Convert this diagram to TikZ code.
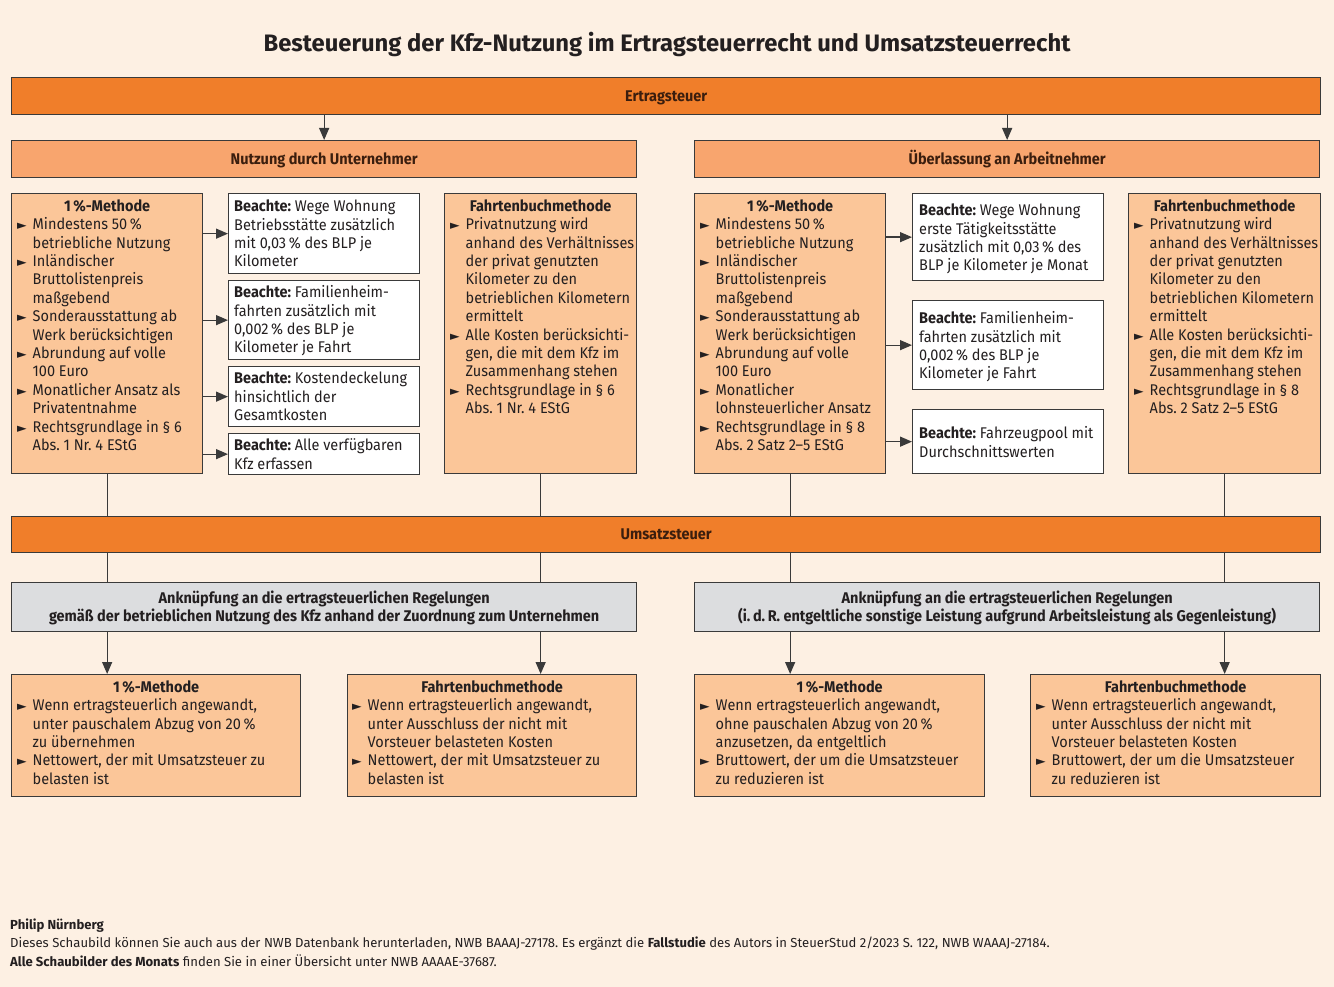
\documentclass[tikz,border=0pt]{standalone}
\usepackage{fontspec}
\setmainfont{Fira Sans}[FakeStretch=0.935]
\newfontfamily\titlefont{Fira Sans}
\newfontfamily\dejavu{DejaVu Sans}
\usetikzlibrary{arrows.meta,calc}
\definecolor{bg}{HTML}{FDF0E3}
\definecolor{barc}{HTML}{F07E2A}
\definecolor{midc}{HTML}{F8A56E}
\definecolor{lightc}{HTML}{FBC699}
\definecolor{greyc}{HTML}{DCDDDF}
\definecolor{edge}{HTML}{3A3A3A}
\definecolor{brownt}{HTML}{3B1E0E}
\definecolor{txtc}{HTML}{231F20}
\newcommand\bx{\makebox[15.5pt][l]{\raisebox{0pt}{\dejavu\fontsize{12.5}{12.5}\selectfont ►}}}
\newcommand\ix{\hspace*{15.5pt}}
\newcommand\fs{\fontsize{15.5}{18.4}\selectfont}
\newcommand\ftf{\titlefont\fontsize{13.1}{15}\selectfont}
\newcommand\st{\rule{0pt}{13pt}}
\frenchspacing
\begin{document}
\begin{tikzpicture}[x=1pt,y=-1pt,
  box/.style={draw=edge, line width=1.3pt, anchor=north west, inner sep=0pt},
  bar/.style={box, fill=barc, minimum width=1309pt, minimum height=37pt},
  sub/.style={box, fill=midc, minimum width=625pt, minimum height=37pt},
  lbox/.style={box, fill=lightc},
  wbox/.style={box, fill=white, minimum width=191pt},
  gbox/.style={box, fill=greyc, minimum width=625pt, minimum height=49pt},
  bartxt/.style={inner sep=0pt, font=\fs\bfseries, text=brownt, text height=12.5pt, text depth=2pt},
  txt/.style={anchor=north west, inner sep=0pt, align=left, font=\fs, text=txtc},
  hd/.style={anchor=base, inner sep=0pt, font=\fs\bfseries, text=txtc},
  ft/.style={anchor=base west, inner sep=0pt, font=\ftf, text=txtc},
  arr/.style={draw=edge, line width=1.3pt, -{Triangle[length=12pt,width=10pt]}},
  ln/.style={draw=edge, line width=1.3pt}]
\useasboundingbox (0,0) rectangle (1334,987);
\fill[bg] (0,0) rectangle (1334,987);

\node[anchor=base, inner sep=0pt, font=\titlefont\fontsize{23.8}{26}\selectfont\bfseries, text=txtc] (title) at (667,52) {Besteuerung der Kfz-Nutzung im Ertragsteuerrecht und Umsatzsteuerrecht};

% Ertragsteuer
\node[bar] (ert) at (11,77) {};
\node[bartxt] (ertt) at (ert.center) {Ertragsteuer};
\node[sub] (nu) at (11,140) {};
\node[bartxt] (nut) at (nu.center) {Nutzung durch Unternehmer};
\node[sub] (ua) at (694,140) {};
\node[bartxt] (uat) at (ua.center) {Überlassung an Arbeitnehmer};
\draw[arr] (ert.south -| nu.north) -- (nu.north);
\draw[arr] (ert.south -| ua.north) -- (ua.north);

% left 1%-Methode
\node[lbox, minimum width=191pt, minimum height=280pt] (l1) at (11,193) {};
\node[hd] (l1h) at (l1.north |- 0,211.5) {1\,\%-Methode};
\node[txt] (l1t) at (17,216.5) {\st\bx Mindestens 50\,\%\\\ix betriebliche Nutzung\\\bx Inländischer\\\ix Bruttolistenpreis\\\ix maßgebend\\\bx Sonderausstattung ab\\\ix Werk berücksichtigen\\\bx Abrundung auf volle\\\ix 100 Euro\\\bx Monatlicher Ansatz als\\\ix Privatentnahme\\\bx Rechtsgrundlage in § 6\\\ix Abs. 1 Nr. 4 EStG};

% left Beachte
\node[wbox, minimum height=80pt] (b1) at (228,193) {};
\node[txt] (b1t) at (234,198.5) {\st\textbf{Beachte:} Wege Wohnung\\Betriebsstätte zusätzlich\\mit 0,03\,\% des BLP je\\Kilometer};
\node[wbox, minimum height=79pt] (b2) at (228,280) {};
\node[txt] (b2t) at (234,284.5) {\st\textbf{Beachte:} Familienheim-\\fahrten zusätzlich mit\\0,002\,\% des BLP je\\Kilometer je Fahrt};
\node[wbox, minimum height=60pt] (b3) at (228,366) {};
\node[txt] (b3t) at (234,370.5) {\st\textbf{Beachte:} Kostendeckelung\\hinsichtlich der\\Gesamtkosten};
\node[wbox, minimum height=41pt] (b4) at (228,433) {};
\node[txt] (b4t) at (234,437.5) {\st\textbf{Beachte:} Alle verfügbaren\\Kfz erfassen};
\foreach \b in {b1,b2,b3,b4} \draw[arr] (\b.west -| l1.east) -- (\b.west);

% left Fahrtenbuch
\node[lbox, minimum width=192pt, minimum height=280pt] (f1) at (444,193) {};
\node[hd] (f1h) at (f1.north |- 0,211.5) {Fahrtenbuchmethode};
\node[txt] (f1t) at (450,216.5) {\st\bx Privatnutzung wird\\\ix anhand des Verhältnisses\\\ix der privat genutzten\\\ix Kilometer zu den\\\ix betrieblichen Kilometern\\\ix ermittelt\\\bx Alle Kosten berücksichti-\\\ix gen, die mit dem Kfz im\\\ix Zusammenhang stehen\\\bx Rechtsgrundlage in § 6\\\ix Abs. 1 Nr. 4 EStG};

% right 1%-Methode
\node[lbox, minimum width=191pt, minimum height=280pt] (r1) at (694,193) {};
\node[hd] (r1h) at (r1.north |- 0,211.5) {1\,\%-Methode};
\node[txt] (r1t) at (700,216.5) {\st\bx Mindestens 50\,\%\\\ix betriebliche Nutzung\\\bx Inländischer\\\ix Bruttolistenpreis\\\ix maßgebend\\\bx Sonderausstattung ab\\\ix Werk berücksichtigen\\\bx Abrundung auf volle\\\ix 100 Euro\\\bx Monatlicher\\\ix lohnsteuerlicher Ansatz\\\bx Rechtsgrundlage in § 8\\\ix Abs. 2 Satz 2–5 EStG};

% right Beachte
\node[wbox, minimum height=87pt] (rb1) at (912,193) {};
\node[txt] (rb1t) at (919,202.5) {\st\textbf{Beachte:} Wege Wohnung\\erste Tätigkeitsstätte\\zusätzlich mit 0,03\,\% des\\BLP je Kilometer je Monat};
\node[wbox, minimum height=89pt] (rb2) at (912,300) {};
\node[txt] (rb2t) at (919,310.5) {\st\textbf{Beachte:} Familienheim-\\fahrten zusätzlich mit\\0,002\,\% des BLP je\\Kilometer je Fahrt};
\node[wbox, minimum height=64pt] (rb3) at (912,409) {};
\node[txt] (rb3t) at (919,425.5) {\st\textbf{Beachte:} Fahrzeugpool mit\\Durchschnittswerten};
\foreach \b in {rb1,rb2,rb3} \draw[arr] (\b.west -| r1.east) -- (\b.west);

% right Fahrtenbuch
\node[lbox, minimum width=192pt, minimum height=280pt] (f2) at (1128,193) {};
\node[hd] (f2h) at (f2.north |- 0,211.5) {Fahrtenbuchmethode};
\node[txt] (f2t) at (1134,216.5) {\st\bx Privatnutzung wird\\\ix anhand des Verhältnisses\\\ix der privat genutzten\\\ix Kilometer zu den\\\ix betrieblichen Kilometern\\\ix ermittelt\\\bx Alle Kosten berücksichti-\\\ix gen, die mit dem Kfz im\\\ix Zusammenhang stehen\\\bx Rechtsgrundlage in § 8\\\ix Abs. 2 Satz 2–5 EStG};

% Umsatzsteuer
\node[bar, minimum height=36pt] (ust) at (11,516) {};
\node[bartxt] (ustt) at (ust.center) {Umsatzsteuer};
\foreach \b in {l1,f1,r1,f2} \draw[ln] (\b.south) -- (\b.south |- ust.north);

\node[gbox] (g1) at (11,582) {};
\node[hd] (g1t) at (g1.north |- 0,603.5) {Anknüpfung an die ertragsteuerlichen Regelungen};
\node[hd] (g1u) at (g1.north |- 0,621.5) {gemäß der betrieblichen Nutzung des Kfz anhand der Zuordnung zum Unternehmen};
\node[gbox] (g2) at (694,582) {};
\node[hd] (g2t) at (g2.north |- 0,603.5) {Anknüpfung an die ertragsteuerlichen Regelungen};
\node[hd] (g2u) at (g2.north |- 0,621.5) {(i.\,d.\,R. entgeltliche sonstige Leistung aufgrund Arbeitsleistung als Gegenleistung)};
\draw[ln] (ust.south -| l1.south) -- (g1.north -| l1.south);
\draw[ln] (ust.south -| f1.south) -- (g1.north -| f1.south);
\draw[ln] (ust.south -| r1.south) -- (g2.north -| r1.south);
\draw[ln] (ust.south -| f2.south) -- (g2.north -| f2.south);

% bottom boxes
\node[lbox, minimum width=289pt, minimum height=122pt] (u1) at (11,674) {};
\node[hd] (u1h) at (u1.north |- 0,692.5) {1\,\%-Methode};
\node[txt] (u1t) at (17,697.5) {\st\bx Wenn ertragsteuerlich angewandt,\\\ix unter pauschalem Abzug von 20\,\%\\\ix zu übernehmen\\\bx Nettowert, der mit Umsatzsteuer zu\\\ix belasten ist};
\node[lbox, minimum width=289pt, minimum height=122pt] (u2) at (347,674) {};
\node[hd] (u2h) at (u2.north |- 0,692.5) {Fahrtenbuchmethode};
\node[txt] (u2t) at (352,697.5) {\st\bx Wenn ertragsteuerlich angewandt,\\\ix unter Ausschluss der nicht mit\\\ix Vorsteuer belasteten Kosten\\\bx Nettowert, der mit Umsatzsteuer zu\\\ix belasten ist};
\node[lbox, minimum width=290pt, minimum height=122pt] (u3) at (694,674) {};
\node[hd] (u3h) at (u3.north |- 0,692.5) {1\,\%-Methode};
\node[txt] (u3t) at (700,697.5) {\st\bx Wenn ertragsteuerlich angewandt,\\\ix ohne pauschalen Abzug von 20\,\%\\\ix anzusetzen, da entgeltlich\\\bx Bruttowert, der um die Umsatzsteuer\\\ix zu reduzieren ist};
\node[lbox, minimum width=290pt, minimum height=122pt] (u4) at (1030,674) {};
\node[hd] (u4h) at (u4.north |- 0,692.5) {Fahrtenbuchmethode};
\node[txt] (u4t) at (1036,697.5) {\st\bx Wenn ertragsteuerlich angewandt,\\\ix unter Ausschluss der nicht mit\\\ix Vorsteuer belasteten Kosten\\\bx Bruttowert, der um die Umsatzsteuer\\\ix zu reduzieren ist};
\draw[arr] (g1.south -| l1.south) -- (u1.north -| l1.south);
\draw[arr] (g1.south -| f1.south) -- (u2.north -| f1.south);
\draw[arr] (g2.south -| r1.south) -- (u3.north -| r1.south);
\draw[arr] (g2.south -| f2.south) -- (u4.north -| f2.south);

% footer
\node[ft, font={\ftf\bfseries}] (fa) at (10,929) {Philip Nürnberg};
\node[ft] (fb) at (10,947) {Dieses Schaubild können Sie auch aus der NWB Datenbank herunterladen, NWB BAAAJ-27178. Es ergänzt die \textbf{Fallstudie} des Autors in SteuerStud 2/2023 S.~122, NWB WAAAJ-27184.};
\node[ft] (fc) at (10,966) {\textbf{Alle Schaubilder des Monats} finden Sie in einer Übersicht unter NWB AAAAE-37687.};
\end{tikzpicture}
\end{document}
